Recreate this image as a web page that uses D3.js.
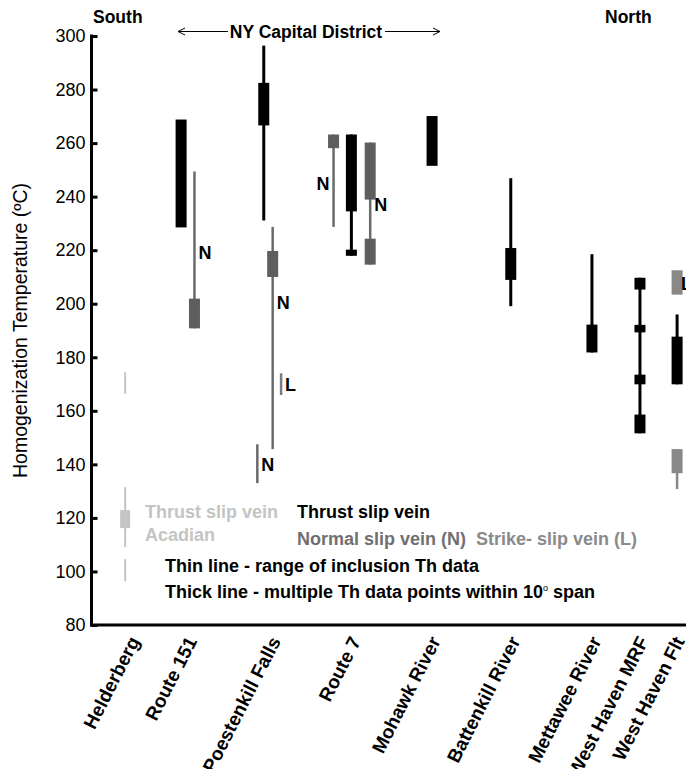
<!DOCTYPE html>
<html><head><meta charset="utf-8">
<script src="https://cdn.jsdelivr.net/npm/d3@7"></script>
<style>body{margin:0;background:#fff}svg{display:block}text{font-family:"Liberation Sans",Arial,sans-serif}</style>
</head><body><svg id="c" width="686" height="769"></svg>
<script>
// ---------- data ----------
const sites = ["Helderberg","Route 151","Poestenkill Falls","Route 7","Mohawk River","Battenkill River","Mettawee River","West Haven MRF","West Haven Flt"];
const siteX = [0.67, 1.93, 3.5, 5.24, 6.87, 8.46, 10.1, 11.07, 11.82];
const yTicks = [80,100,120,140,160,180,200,220,240,260,280,300];

// thin lines: range of inclusion Th data  [site position, low, high, vein type]
const thinLines = [
  [0.67, 166.3, 174.4, "acadian"],
  [2.07, 190.8, 249.4, "normal"],
  [3.47, 231.1, 296.4, "thrust"],
  [3.65, 145.7, 228.7, "normal"],
  [3.82, 165.9, 174.0, "strike"],
  [3.34, 133.0, 147.5, "normal"],
  [4.88, 228.7, 263.2, "normal"],
  [5.24, 218.0, 263.2, "thrust"],
  [5.62, 214.6, 260.2, "normal"],
  [8.46, 199.1, 246.9, "thrust"],
  [10.10, 181.8, 218.5, "thrust"],
  [11.07, 151.6, 209.7, "thrust"],
  [11.82, 169.9, 196.0, "thrust"],
  [11.82, 130.8, 145.7, "flt"]
];
// thick lines: multiple Th data points within 10 degree span
const thickLines = [
  [1.80, 228.5, 268.8, "thrust"],
  [2.07, 190.8, 201.9, "normal"],
  [3.47, 266.6, 282.5, "thrust"],
  [3.65, 210.0, 219.7, "normal"],
  [4.88, 258.1, 263.2, "normal"],
  [5.24, 234.5, 263.2, "thrust"],
  [5.24, 217.9, 220.2, "thrust"],
  [5.62, 238.9, 260.2, "normal"],
  [5.62, 214.6, 224.3, "normal"],
  [6.87, 251.5, 270.1, "thrust"],
  [8.46, 208.9, 220.8, "thrust"],
  [10.10, 181.8, 192.2, "thrust"],
  [11.07, 205.3, 209.7, "thrust"],
  [11.07, 189.3, 192.1, "thrust"],
  [11.07, 169.9, 173.5, "thrust"],
  [11.07, 151.6, 158.6, "thrust"],
  [11.82, 203.4, 212.5, "flt"],
  [11.82, 169.9, 187.7, "thrust"],
  [11.82, 136.7, 145.7, "flt"]
];
// point labels [site position, temperature, text, side]
const veinLabels = [
  [2.07, 219, "N", "r"],
  [3.65, 200.5, "N", "r"],
  [3.82, 170, "L", "r"],
  [3.34, 140, "N", "r"],
  [4.88, 245, "N", "l"],
  [5.62, 237, "N", "r"],
  [11.82, 207.5, "L", "r"]
];
// legend glyphs
const legendThin = [[0.67, 109.1, 131.5],[0.67, 96.4, 104.6]];
const legendThick = [[0.67, 116.2, 122.9]];

// ---------- drawing ----------
const colors = {acadian:"#c4c4c4", thrust:"#000000", normal:"#6a6a6a", strike:"#7c7c7c", flt:"#888888"};
const thickColors = {acadian:"#c4c4c4", thrust:"#000000", normal:"#5e5e5e", strike:"#7c7c7c", flt:"#888888"};
const thinW = {acadian:2, thrust:3, normal:2.5, strike:2.5, flt:2.5};
const labelShift = [15, 10, 16, 10, 9, 10, 10, 9, 8];

const svg = d3.select("#c");
const y = d3.scaleLinear().domain([80,300]).range([625,36]);
const x = d3.scaleLinear().domain([0,12]).range([92,686]);
const boxW = 11;

// y axis
const ax = svg.append("g").attr("transform","translate(91.5,0)")
  .call(d3.axisLeft(y).tickValues(yTicks).tickSize(-6).tickPadding(6).tickSizeOuter(0));
ax.select(".domain").remove();
ax.selectAll(".tick line").attr("stroke","#000").attr("stroke-width",3);
ax.selectAll(".tick text").attr("font-size",18).attr("fill","#000").attr("font-family","Liberation Sans, Arial, sans-serif");
svg.append("line").attr("x1",91.5).attr("x2",91.5).attr("y1",y(300)-1.5).attr("y2",y(80)+1.5).attr("stroke","#000").attr("stroke-width",3);
svg.append("line").attr("x1",90).attr("x2",686).attr("y1",y(80)).attr("y2",y(80)).attr("stroke","#000").attr("stroke-width",3);

svg.append("text").attr("transform",`translate(27,${(y(80)+y(300))/2}) rotate(-90)`)
  .attr("text-anchor","middle").attr("font-size",19.5).text("Homogenization Temperature (ºC)");

// thin lines
svg.append("g").selectAll("line").data(thinLines).join("line")
  .attr("x1",d=>x(d[0])).attr("x2",d=>x(d[0]))
  .attr("y1",d=>y(d[2])).attr("y2",d=>y(d[1]))
  .attr("stroke",d=>colors[d[3]]).attr("stroke-width",d=>thinW[d[3]]);
// thick boxes
svg.append("g").selectAll("rect").data(thickLines).join("rect")
  .attr("x",d=>x(d[0])-boxW/2).attr("width",boxW)
  .attr("y",d=>y(d[2])).attr("height",d=>y(d[1])-y(d[2]))
  .attr("fill",d=>thickColors[d[3]]);
// vein labels
svg.append("g").selectAll("text").data(veinLabels).join("text")
  .attr("x",d=>d[3]==="r"? x(d[0])+4 : x(d[0])-4)
  .attr("y",d=>y(d[1])+6.5)
  .attr("text-anchor",d=>d[3]==="r"?"start":"end")
  .attr("font-size",18).attr("font-weight","bold").text(d=>d[2]);

// legend glyphs
svg.append("g").selectAll("line").data(legendThin).join("line")
  .attr("x1",d=>x(d[0])).attr("x2",d=>x(d[0])).attr("y1",d=>y(d[2])).attr("y2",d=>y(d[1]))
  .attr("stroke",colors.acadian).attr("stroke-width",2);
svg.append("g").selectAll("rect").data(legendThick).join("rect")
  .attr("x",d=>x(d[0])-5).attr("width",10).attr("y",d=>y(d[2])).attr("height",d=>y(d[1])-y(d[2]))
  .attr("fill",colors.acadian);

// legend texts
const lg = svg.append("g").attr("font-size",18).attr("font-weight","bold");
lg.append("text").attr("x",145).attr("y",518).attr("fill","#c4c4c4").text("Thrust slip vein");
lg.append("text").attr("x",145).attr("y",541).attr("fill","#c4c4c4").text("Acadian");
lg.append("text").attr("x",297).attr("y",518).attr("fill","#000").text("Thrust slip vein");
lg.append("text").attr("x",297).attr("y",545).attr("fill","#707070").text("Normal slip vein (N)");
lg.append("text").attr("x",476).attr("y",545).attr("fill","#8a8a8a").text("Strike- slip vein (L)");
lg.append("text").attr("x",165).attr("y",572).attr("fill","#000").text("Thin line - range of inclusion Th data");
const tk = lg.append("text").attr("x",165).attr("y",598).attr("fill","#000");
tk.append("tspan").text("Thick line - multiple Th data points within 10");
tk.append("tspan").attr("font-size",9).attr("font-weight","normal").attr("dy",-7).text("o");
tk.append("tspan").attr("dy",7).text(" span");

// top labels
const tg = svg.append("g").attr("font-size",17.5).attr("font-weight","bold");
tg.append("text").attr("x",93).attr("y",23).text("South");
tg.append("text").attr("x",605).attr("y",23).text("North");
tg.append("text").attr("x",306).attr("y",38).attr("text-anchor","middle").text("NY Capital District");
const arr = svg.append("g").attr("stroke","#000").attr("stroke-width",1).attr("fill","none");
arr.append("path").attr("d","M228,31.5H178M185,28L178,31.5L185,35");
arr.append("path").attr("d","M385,31.5H440M433,28L440,31.5L433,35");

// x labels
svg.append("g").selectAll("text").data(sites).join("text")
  .attr("transform",(d,i)=>`translate(${x(siteX[i])+labelShift[i]},641) rotate(-63)`)
  .attr("text-anchor","end").attr("font-size",19).attr("font-weight","bold").text(d=>d);
</script></body></html>
